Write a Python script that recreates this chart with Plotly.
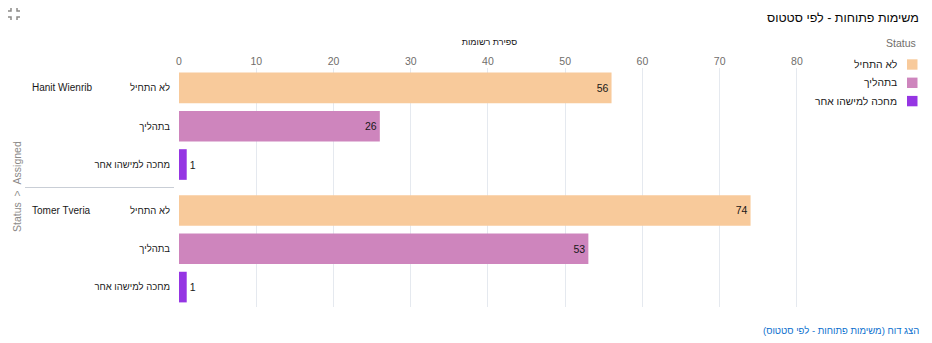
import plotly.graph_objects as go

# ---- data ----
assignees = ["Hanit Wienrib", "Tomer Tveria"]
statuses = ["לא התחיל", "בתהליך", "מחכה למישהו אחר"]
status_colors = ["#F8CA9B", "#CE85BD", "#9535E3"]
values = {
    "Hanit Wienrib": [56, 26, 1],
    "Tomer Tveria": [74, 53, 1],
}
x_ticks = [0, 10, 20, 30, 40, 50, 60, 70, 80]

title = "משימות פתוחות - לפי סטטוס"
x_title = "ספירת רשומות"
y_title = "Status\u00a0\u00a0>\u00a0\u00a0Assigned"
legend_title = "Status"
footer = "הצג דוח (משימות פתוחות - לפי סטטוס)"

# ---- layout helpers ----
W, H = 932, 343
L, R, T, B = 179, 800, 68, 307
GROUP_STEP = len(statuses) + 0.2


def px_x(p):
    return (p - L) / (R - L)


def px_y(p):
    return 1 - (p - T) / (B - T)


FONT = "Arial, Liberation Sans, DejaVu Sans, sans-serif"

fig = go.Figure()

tickvals, ticktext = [], []
for si, status in enumerate(statuses):
    ys, xs = [], []
    for gi, a in enumerate(assignees):
        ys.append(gi * GROUP_STEP + si)
        xs.append(values[a][si])
    fig.add_trace(go.Bar(
        x=xs, y=ys, orientation="h", width=0.8,
        marker=dict(color=status_colors[si], line=dict(width=0)),
        text=xs, textposition="auto", insidetextanchor="end",
        textfont=dict(color="#181818", size=10.5, family=FONT),
        outsidetextfont=dict(color="#181818", size=10.5, family=FONT),
        name=status, showlegend=False, cliponaxis=False,
    ))
for gi, a in enumerate(assignees):
    for si, status in enumerate(statuses):
        tickvals.append(gi * GROUP_STEP + si)
        ticktext.append(status)

n_last = (len(assignees) - 1) * GROUP_STEP + len(statuses) - 1

fig.update_layout(
    width=W, height=H,
    margin=dict(l=L, r=W - R, t=T, b=H - B),
    plot_bgcolor="white", paper_bgcolor="white",
    font=dict(family=FONT, size=11, color="#181818"),
    xaxis=dict(
        side="top", range=[0, 80.4], tickvals=x_ticks,
        showgrid=True, gridcolor="#E5E9EF", gridwidth=1,
        zeroline=False, showline=False, ticks="",
        tickfont=dict(size=10.5, color="#706E6B"),
        title=dict(text=x_title, font=dict(size=9, color="#181818"), standoff=7),
    ),
    yaxis=dict(
        range=[n_last + 0.52, -0.52], tickvals=tickvals, ticktext=ticktext,
        showgrid=False, zeroline=False, showline=False, ticks="",
        tickfont=dict(size=9.5, color="#181818"), ticklabelstandoff=8,
    ),
    showlegend=False,
)

ann = []
# title
ann.append(dict(text=title, xref="paper", yref="paper", x=px_x(921), y=px_y(18),
                xanchor="right", yanchor="middle", showarrow=False,
                font=dict(size=12.5, color="#080707")))
# footer link
ann.append(dict(text=footer, xref="paper", yref="paper", x=px_x(921), y=px_y(330),
                xanchor="right", yanchor="middle", showarrow=False,
                font=dict(size=9.5, color="#0B6FCE")))
# y title
ann.append(dict(text=y_title, xref="paper", yref="paper", x=px_x(17), y=px_y(187),
                xanchor="center", yanchor="middle", textangle=-90, showarrow=False,
                font=dict(size=10.5, color="#8C8A88")))
# assignee labels
for gi, a in enumerate(assignees):
    ann.append(dict(text=a, xref="paper", yref="y", x=px_x(30), y=gi * GROUP_STEP,
                    xanchor="left", yanchor="middle", showarrow=False,
                    font=dict(size=10, color="#181818")))
# legend
ann.append(dict(text=legend_title, xref="paper", yref="paper", x=px_x(918), y=px_y(43),
                xanchor="right", yanchor="middle", showarrow=False,
                font=dict(size=10.5, color="#706E6B")))
shapes = []
for si, status in enumerate(statuses):
    cy = 64.5 + si * 18.3
    ann.append(dict(text=status, xref="paper", yref="paper", x=px_x(899), y=px_y(cy),
                    xanchor="right", yanchor="middle", showarrow=False,
                    font=dict(size=10.3, color="#181818")))
    shapes.append(dict(type="rect", xref="paper", yref="paper",
                       x0=px_x(907), x1=px_x(917.5), y0=px_y(cy - 5.2), y1=px_y(cy + 5.2),
                       fillcolor=status_colors[si], line=dict(width=0)))
# divider between groups
for gi in range(1, len(assignees)):
    ydiv = gi * GROUP_STEP - 0.6
    shapes.append(dict(type="line", xref="paper", yref="y",
                       x0=px_x(25), x1=px_x(174), y0=ydiv, y1=ydiv,
                       line=dict(color="#C9CED6", width=1)))

# collapse icon (four small corner marks) in top-left
icon_color = "#8C8A88"
for (cx, cy, dx, dy) in [(11, 11, 1, 1), (17, 11, -1, 1), (11, 17, 1, -1), (17, 17, -1, -1)]:
    path = "M {} {} L {} {} L {} {}".format(
        px_x(cx), px_y(cy - 3 * dy),
        px_x(cx), px_y(cy),
        px_x(cx - 3 * dx), px_y(cy))
    shapes.append(dict(type="path", xref="paper", yref="paper", path=path,
                       line=dict(color=icon_color, width=1.5)))

fig.update_layout(annotations=ann, shapes=shapes)
fig.write_html("out.html")
